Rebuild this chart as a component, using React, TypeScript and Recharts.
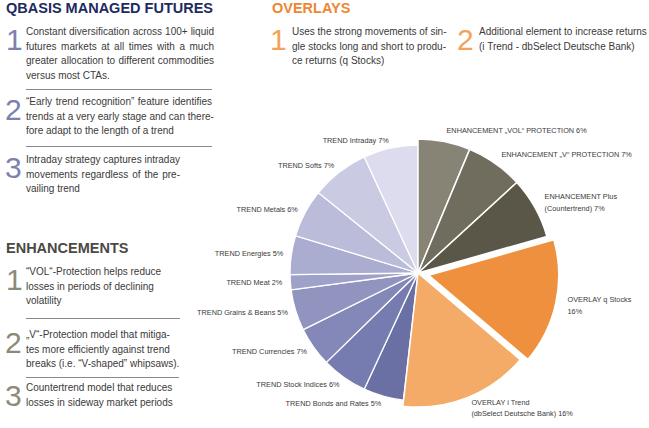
import React from 'react';
import { PieChart, Pie, Cell } from 'recharts';

const FONT = "'Liberation Sans', Arial, Helvetica, sans-serif";

// ---------- pie data ----------
const sliceNames = [
  'ENHANCEMENT VOL PROTECTION',
  'ENHANCEMENT V PROTECTION',
  'ENHANCEMENT Plus',
  'OVERLAY q Stocks',
  'OVERLAY i Trend',
  'TREND Bonds and Rates',
  'TREND Stock Indices',
  'TREND Currencies',
  'TREND Grains & Beans',
  'TREND Meat',
  'TREND Energies',
  'TREND Metals',
  'TREND Softs',
  'TREND Intraday',
];
// shares as drawn in the picture (percent of the circle)
const sliceShares = [6.3, 6.9, 7.4, 15.6, 15.6, 5.1, 5.8, 5.0, 5.2, 1.9, 4.9, 6.1, 7.3, 6.9];
const sliceLabels = [
  'ENHANCEMENT „VOL“ PROTECTION 6%',
  'ENHANCEMENT „V“ PROTECTION 7%',
  'ENHANCEMENT Plus\n(Countertrend) 7%',
  'OVERLAY q Stocks\n16%',
  'OVERLAY i Trend\n(dbSelect Deutsche Bank) 16%',
  'TREND Bonds and Rates 5%',
  'TREND Stock Indices 6%',
  'TREND Currencies 7%',
  'TREND Grains & Beans 5%',
  'TREND Meat 2%',
  'TREND Energies 5%',
  'TREND Metals 6%',
  'TREND Softs 7%',
  'TREND Intraday 7%',
];
const sliceGroups = ['enh', 'enh', 'enh', 'explode', 'enh', 'trend', 'trend', 'trend', 'trend', 'trend', 'trend', 'trend', 'trend', 'trend'];
const sliceColors = [
  '#878475', '#716d5e', '#5b5748', '#ef903e', '#f4ab68',
  '#6a6fa4', '#777cb0', '#8488b8', '#9294c0', '#9fa2c8',
  '#abadd0', '#bbbcd9', '#cacbe3', '#dcdcee',
];

// ---------- text data ----------
const qbasisTitle = 'QBASIS MANAGED FUTURES';
const qbasisP1 = [
  'Constant diversification across 100+ liquid',
  'futures markets at all times with a much',
  'greater allocation to different commodities',
  'versus most CTAs.',
];
const qbasisP2 = [
  '“Early trend recognition” feature identifies',
  'trends at a very early stage and can there-',
  'fore adapt to the length of a trend',
];
const qbasisP3 = [
  'Intraday strategy captures intraday',
  'movements regardless of the pre-',
  'vailing trend',
];
const enhTitle = 'ENHANCEMENTS';
const enhP1 = [
  '“VOL“-Protection helps reduce',
  'losses in periods of declining',
  'volatility',
];
const enhP2 = [
  '„V“-Protection model that mitiga-',
  'tes more efficiently against trend',
  'breaks (i.e. “V-shaped” whipsaws).',
];
const enhP3 = [
  'Countertrend model that reduces',
  'losses in sideway market periods',
];
const ovTitle = 'OVERLAYS';
const ovP1 = [
  'Uses the strong movements of sin-',
  'gle stocks long and short to produ-',
  'ce returns (q Stocks)',
];
const ovP2 = [
  'Additional element to increase returns',
  '(i Trend - dbSelect Deutsche Bank)',
];

const data = sliceNames.map((name, i) => ({
  name,
  value: sliceShares[i],
  label: sliceLabels[i],
  group: sliceGroups[i],
}));

const CX = 418;
const CY = 273;
const RAD = Math.PI / 180;

function makeLabel(group: string, gap: number) {
  return (props: any) => {
    const { cx, cy, midAngle, outerRadius, index } = props;
    const d = data[index];
    if (!d || d.group !== group) return null;
    const r = outerRadius + gap;
    const x = cx + r * Math.cos(-midAngle * RAD);
    const y = cy + r * Math.sin(-midAngle * RAD);
    const anchor = x < cx ? 'end' : 'start';
    const lines = d.label.split('\n');
    const lh = 11.5;
    return (
      <text
        key={`lbl-${group}-${index}`}
        x={x}
        y={y}
        textAnchor={anchor}
        fontFamily={FONT}
        fontSize={7.3}
        fill="#3a3a3a"
      >
        {lines.map((ln: string, i: number) => (
          <tspan key={i} x={x} y={y - ((lines.length - 1) * lh) / 2 + i * lh} dominantBaseline="central">
            {ln}
          </tspan>
        ))}
      </text>
    );
  };
}

function Para({ x, y, width, lines, justify, digit, digitColor, digitX }: any) {
  return (
    <>
      <div
        style={{
          position: 'absolute', left: digitX, top: y, fontSize: 30, lineHeight: '30px',
          color: digitColor, fontFamily: FONT,
        }}
      >
        {digit}
      </div>
      <div style={{ position: 'absolute', left: x, top: y, width }}>
        {lines.map((l: string, i: number) => (
          <div
            key={i}
            style={{
              fontSize: 10, lineHeight: '14.7px', height: 14.7, color: '#3a3a3a', fontFamily: FONT,
              whiteSpace: 'nowrap',
              textAlign: 'left',
              textAlignLast: justify && i < lines.length - 1 ? 'justify' : 'left',
            }}
          >
            {l}
          </div>
        ))}
      </div>
    </>
  );
}

function Sep({ x, y, width }: any) {
  return <div style={{ position: 'absolute', left: x, top: y, width, height: 0, borderTop: '1px solid #8a8a8a' }} />;
}

function Title({ x, y, text, color }: any) {
  return (
    <div style={{ position: 'absolute', left: x, top: y, fontSize: 14.5, lineHeight: '15px', fontWeight: 700, color, fontFamily: FONT, whiteSpace: 'nowrap' }}>
      {text}
    </div>
  );
}

export default function App() {
  const blue = '#7b82ae';
  const gray = '#8c8a7b';
  const orange = '#f4a25a';
  return (
    <div style={{ position: 'absolute', left: 0, top: 0, width: 649, height: 428, background: '#fff', overflow: 'hidden', fontFamily: FONT }}>
      <Title x={6} y={1} text={qbasisTitle} color="#1e2b5e" />
      <Para x={26} y={25} width={188} lines={qbasisP1} justify digit="1" digitColor={blue} digitX={6} />
      <Sep x={26} y={89} width={186} />
      <Para x={26} y={95} width={186} lines={qbasisP2} justify digit="2" digitColor={blue} digitX={5} />
      <Sep x={26} y={146} width={186} />
      <Para x={26} y={153} width={154} lines={qbasisP3} justify digit="3" digitColor={blue} digitX={5} />

      <Title x={6} y={241} text={enhTitle} color="#4a4944" />
      <Para x={26} y={265} width={160} lines={enhP1} digit="1" digitColor={gray} digitX={6} />
      <Sep x={26} y={318} width={154} />
      <Para x={26} y={328} width={160} lines={enhP2} digit="2" digitColor={gray} digitX={5} />
      <Sep x={26} y={377} width={153} />
      <Para x={26} y={381} width={160} lines={enhP3} digit="3" digitColor={gray} digitX={5} />

      <Title x={272} y={1} text={ovTitle} color="#ee8633" />
      <Para x={292} y={25} width={154} lines={ovP1} justify digit="1" digitColor={orange} digitX={270} />
      <Para x={479} y={25} width={170} lines={ovP2} digit="2" digitColor={orange} digitX={457} />

      <div style={{ position: 'absolute', left: 0, top: 0 }}>
        <PieChart width={649} height={428} margin={{ top: 0, right: 0, bottom: 0, left: 0 }}>
          <Pie
            data={data}
            dataKey="value"
            cx={CX}
            cy={CY}
            outerRadius={128}
            startAngle={90}
            endAngle={-270}
            isAnimationActive={false}
            labelLine={false}
            label={makeLabel('trend', 8)}
          >
            {data.map((d, i) => (
              <Cell
                key={i}
                fill={d.group === 'trend' ? sliceColors[i] : 'transparent'}
                stroke={d.group === 'trend' ? '#ffffff' : 'none'}
                strokeWidth={1.3}
              />
            ))}
          </Pie>
          <Pie
            data={data}
            dataKey="value"
            cx={CX}
            cy={CY}
            outerRadius={134}
            startAngle={90}
            endAngle={-270}
            isAnimationActive={false}
            labelLine={false}
            label={makeLabel('enh', 11)}
          >
            {data.map((d, i) => (
              <Cell
                key={i}
                fill={d.group === 'enh' ? sliceColors[i] : 'transparent'}
                stroke={d.group === 'enh' ? '#ffffff' : 'none'}
                strokeWidth={1.5}
              />
            ))}
          </Pie>
          <Pie
            data={data}
            dataKey="value"
            cx={CX + 11 * Math.cos((90 - 102.2) * RAD)}
            cy={CY - 11 * Math.sin((90 - 102.2) * RAD)}
            outerRadius={130}
            startAngle={90}
            endAngle={-270}
            isAnimationActive={false}
            labelLine={false}
            label={makeLabel('explode', 12)}
          >
            {data.map((d, i) => (
              <Cell
                key={i}
                fill={d.group === 'explode' ? sliceColors[i] : 'transparent'}
                stroke={d.group === 'explode' ? '#ffffff' : 'none'}
                strokeWidth={1.5}
              />
            ))}
          </Pie>
        </PieChart>
      </div>
    </div>
  );
}
